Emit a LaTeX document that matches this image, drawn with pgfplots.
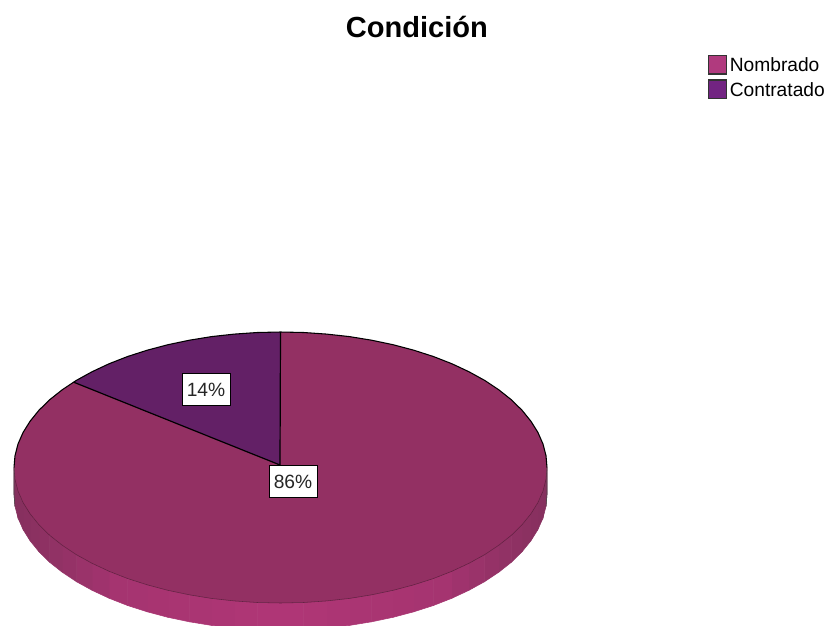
\documentclass[border=0pt]{standalone}
\usepackage{fontspec}
\setmainfont{Liberation Sans}
\usepackage{pgfplots}
\usepackage{pgfplotstable}
\pgfplotsset{compat=1.18}

\definecolor{slicea}{RGB}{147,48,99}
\definecolor{sliceb}{RGB}{99,32,102}
\definecolor{lega}{RGB}{176,58,126}
\definecolor{legb}{RGB}{114,36,130}

% side wall of the disc: lower rim, then the same rim pushed down
\pgfplotstableread{
x y m
547 467.5 0
546 479.3 0
543 491 .02
537.9 502.6 .03
530.9 513.8 .06
522 524.8 .09
511.3 535.3 .13
498.8 545.2 .18
484.7 554.6 .23
468.9 563.3 .29
451.8 571.3 .36
433.4 578.5 .43
413.8 584.8 .5
393.1 590.3 .58
371.6 594.8 .66
349.5 598.4 .74
326.8 600.9 .83
303.7 602.5 .91
280.5 603 1
257.3 602.5 .91
234.2 600.9 .83
211.5 598.4 .74
189.4 594.8 .66
167.9 590.3 .58
147.2 584.8 .5
127.6 578.5 .43
109.2 571.3 .36
92.1 563.3 .29
76.3 554.6 .23
62.2 545.2 .18
49.7 535.3 .13
39 524.8 .09
30.1 513.8 .06
23.1 502.6 .03
18 491 .02
15 479.3 0
14 467.5 0
547 494.5 0
546 506.3 0
543 518 .02
537.9 529.6 .03
530.9 540.8 .06
522 551.8 .09
511.3 562.3 .13
498.8 572.2 .18
484.7 581.6 .23
468.9 590.3 .29
451.8 598.3 .36
433.4 605.5 .43
413.8 611.8 .5
393.1 617.3 .58
371.6 621.8 .66
349.5 625.4 .74
326.8 627.9 .83
303.7 629.5 .91
280.5 630 1
257.3 629.5 .91
234.2 627.9 .83
211.5 625.4 .74
189.4 621.8 .66
167.9 617.3 .58
147.2 611.8 .5
127.6 605.5 .43
109.2 598.3 .36
92.1 590.3 .29
76.3 581.6 .23
62.2 572.2 .18
49.7 562.3 .13
39 551.8 .09
30.1 540.8 .06
23.1 529.6 .03
18 518 .02
15 506.3 0
14 494.5 0
}\sidewall

% Nombrado, 86%
\pgfplotstableread{
x y
280 465
280.5 332
303.7 332.5
326.8 334.1
349.5 336.6
371.6 340.2
393.1 344.7
413.8 350.2
433.4 356.5
451.8 363.7
468.9 371.7
484.7 380.4
498.8 389.8
511.3 399.7
522 410.2
530.9 421.2
537.9 432.4
543 444
546 455.7
547 467.5
546 479.3
543 491
537.9 502.6
530.9 513.8
522 524.8
511.3 535.3
498.8 545.2
484.7 554.6
468.9 563.3
451.8 571.3
433.4 578.5
413.8 584.8
393.1 590.3
371.6 594.8
349.5 598.4
326.8 600.9
303.7 602.5
280.5 603
257.3 602.5
234.2 600.9
211.5 598.4
189.4 594.8
167.9 590.3
147.2 584.8
127.6 578.5
109.2 571.3
92.1 563.3
76.3 554.6
62.2 545.2
49.7 535.3
39 524.8
30.1 513.8
23.1 502.6
18 491
15 479.3
14 467.5
15 455.7
18 444
23.1 432.4
30.1 421.2
39 410.2
49.7 399.7
62.2 389.8
73.5 382.1
}\nombrado

% Contratado, 14%
\pgfplotstableread{
x y
280 465
73.5 382.1
76.3 380.4
92.1 371.7
109.2 363.7
127.6 356.5
147.2 350.2
167.9 344.7
189.4 340.2
211.5 336.6
234.2 334.1
257.3 332.5
280.5 332
}\contratado

% percentage labels
\pgfplotstableread{
x y pct
293 481.5 86
206 389.5 14
}\labels

\begin{document}
\begin{tikzpicture}
\begin{axis}[
    width=620.25pt, height=468.75pt, scale only axis,
    xmin=0, xmax=827, ymin=0, ymax=625,
    y dir=reverse,
    hide axis,
    title={\textbf{Condición}},
    title style={font=\fontsize{21.8}{24}\selectfont, at={(axis description cs:0.504,0.944)}, anchor=center},
    legend style={draw=none, fill=none, font=\fontsize{14.4}{16}\selectfont,
        at={(axis description cs:0.856,0.912)}, anchor=north west,
        inner sep=0pt, outer sep=0pt, row sep=2.3pt,
        /tikz/every even column/.style={column sep=0pt}},
    legend cell align=left,
    colormap={wall}{rgb255(0cm)=(133,48,94) rgb255(2cm)=(165,52,112) rgb255(5cm)=(176,54,118)},
    point meta min=0, point meta max=1,
]
    \addplot[surf, shader=flat, mesh/rows=2, mesh/cols=37, point meta=explicit, forget plot]
        table[x=x, y=y, meta=m] {\sidewall};
    \addplot[fill=slicea, draw=none, forget plot] table[x=x, y=y] {\nombrado} -- cycle;
    \addplot[fill=sliceb, draw=none, forget plot] table[x=x, y=y] {\contratado} -- cycle;
    % front rim, faint
    \addplot[black!35!slicea, line width=0.4pt, forget plot] coordinates {
        (547,467.5) (546,479.3) (543,491) (537.9,502.6) (530.9,513.8) (522,524.8)
        (511.3,535.3) (498.8,545.2) (484.7,554.6) (468.9,563.3) (451.8,571.3)
        (433.4,578.5) (413.8,584.8) (393.1,590.3) (371.6,594.8) (349.5,598.4)
        (326.8,600.9) (303.7,602.5) (280.5,603) (257.3,602.5) (234.2,600.9)
        (211.5,598.4) (189.4,594.8) (167.9,590.3) (147.2,584.8) (127.6,578.5)
        (109.2,571.3) (92.1,563.3) (76.3,554.6) (62.2,545.2) (49.7,535.3)
        (39,524.8) (30.1,513.8) (23.1,502.6) (18,491) (15,479.3) (14,467.5)
    };
    % outer edges of the wall
    \addplot[black!70, line width=0.45pt, forget plot] coordinates {(14,467.5) (14,494.5) (15,506.3)};
    \addplot[black!70, line width=0.45pt, forget plot] coordinates {(547,467.5) (547,494.5) (546,506.3)};
    % back rim
    \addplot[black, line width=0.8pt, forget plot] coordinates {
        (14,467.5) (15,455.7) (18,444) (23.1,432.4) (30.1,421.2) (39,410.2)
        (49.7,399.7) (62.2,389.8) (76.3,380.4) (92.1,371.7) (109.2,363.7)
        (127.6,356.5) (147.2,350.2) (167.9,344.7) (189.4,340.2) (211.5,336.6)
        (234.2,334.1) (257.3,332.5) (280.5,332) (303.7,332.5) (326.8,334.1)
        (349.5,336.6) (371.6,340.2) (393.1,344.7) (413.8,350.2) (433.4,356.5)
        (451.8,363.7) (468.9,371.7) (484.7,380.4) (498.8,389.8) (511.3,399.7)
        (522,410.2) (530.9,421.2) (537.9,432.4) (543,444) (546,455.7) (547,467.5)
    };
    \addplot[black, line width=0.9pt, forget plot] coordinates {(73.5,382.1) (280,465) (280.5,332)};
    \addplot[draw=none, mark=none, forget plot,
        point meta=explicit symbolic,
        nodes near coords={\pgfplotspointmeta\%},
        nodes near coords align=center,
        every node near coord/.append style={
            font=\fontsize{14.4}{16}\selectfont, text=black!85,
            fill=white, draw=black, line width=0.7pt,
            minimum width=36pt, minimum height=24.5pt, inner sep=0pt, anchor=center},
    ] table[x=x, y=y, meta=pct] {\labels};

    \addlegendimage{legend image code/.code={
        \draw[fill=lega, draw=black!80, line width=0.9pt] (-6pt,-6.2pt) rectangle (7.5pt,7.6pt);}}
    \addlegendentry{Nombrado}
    \addlegendimage{legend image code/.code={
        \draw[fill=legb, draw=black!80, line width=0.9pt] (-6pt,-6.2pt) rectangle (7.5pt,7.6pt);}}
    \addlegendentry{Contratado}
\end{axis}
\pgfresetboundingbox
\useasboundingbox (current axis.south west) rectangle (current axis.north east);
\end{tikzpicture}
\end{document}
